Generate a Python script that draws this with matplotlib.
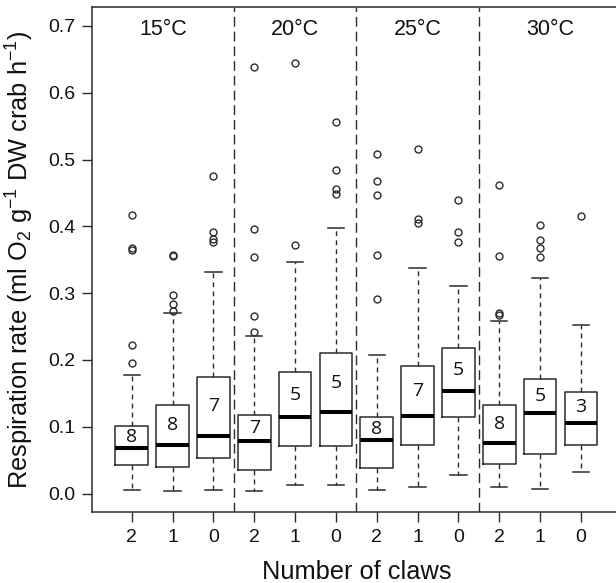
import matplotlib
matplotlib.use("Agg")
import matplotlib.pyplot as plt

# Respiration rate by number of claws, grouped by temperature
temperatures = ["15°C", "20°C", "25°C", "30°C"]
claw_labels = ["2", "1", "0", "2", "1", "0", "2", "1", "0", "2", "1", "0"]
n_crabs = [8, 8, 7, 7, 5, 5, 8, 7, 5, 8, 5, 3]

q1 = [0.0435, 0.0394, 0.0534, 0.035, 0.0705, 0.0705, 0.038, 0.0734, 0.114, 0.045, 0.059, 0.073]
medians = [0.0675, 0.0724, 0.0864, 0.078, 0.114, 0.122, 0.0795, 0.116, 0.153, 0.076, 0.120, 0.106]
q3 = [0.101, 0.133, 0.175, 0.117, 0.182, 0.210, 0.115, 0.191, 0.218, 0.133, 0.172, 0.152]
whisker_low = [0.005, 0.0045, 0.005, 0.0045, 0.0135, 0.0135, 0.005, 0.010, 0.0274, 0.0094, 0.0075, 0.032]
whisker_high = [0.177, 0.271, 0.332, 0.236, 0.346, 0.398, 0.208, 0.338, 0.311, 0.258, 0.323, 0.253]
outliers = [
    [0.196, 0.222, 0.364, 0.367, 0.417],
    [0.274, 0.284, 0.297, 0.356, 0.357],
    [0.377, 0.381, 0.391, 0.475],
    [0.242, 0.266, 0.354, 0.396, 0.638],
    [0.372, 0.644],
    [0.448, 0.456, 0.484, 0.556],
    [0.292, 0.357, 0.447, 0.468, 0.509],
    [0.405, 0.411, 0.516],
    [0.377, 0.391, 0.440],
    [0.268, 0.270, 0.355, 0.462],
    [0.354, 0.367, 0.380, 0.402],
    [0.416],
]
y_ticks = [0.0, 0.1, 0.2, 0.3, 0.4, 0.5, 0.6, 0.7]

plt.rcParams["font.family"] = ["Liberation Sans", "DejaVu Sans"]
plt.rcParams["mathtext.fontset"] = "custom"
plt.rcParams["mathtext.rm"] = "Liberation Sans"
plt.rcParams["mathtext.it"] = "Liberation Sans:italic"
plt.rcParams["mathtext.default"] = "regular"

line_col = "#2b2b2b"
text_col = "#111111"

fig = plt.figure(figsize=(6.16, 5.83), dpi=100)
ax = fig.add_axes([0.1489, 0.1213, 0.859, 0.8662])

positions = list(range(1, len(medians) + 1))
stats = []
for i in range(len(medians)):
    stats.append(dict(med=medians[i], q1=q1[i], q3=q3[i],
                      whislo=whisker_low[i], whishi=whisker_high[i],
                      fliers=outliers[i]))

ax.bxp(stats, positions=positions, widths=0.8, capwidths=0.4,
       boxprops=dict(color=line_col, linewidth=1.1),
       whiskerprops=dict(color=line_col, linewidth=1.0, linestyle=(0, (3.5, 3.0))),
       capprops=dict(color=line_col, linewidth=1.1),
       medianprops=dict(color="black", linewidth=2.9, solid_capstyle="butt"),
       flierprops=dict(marker="o", markerfacecolor="none", markeredgecolor=line_col,
                       markersize=5, markeredgewidth=1.0, linestyle="none"),
       manage_ticks=False)

# sample sizes inside each box
for p, n, m, top in zip(positions, n_crabs, medians, q3):
    ax.text(p, (m + top) / 2, str(n), ha="center", va="center",
            fontsize=14, color=text_col, family=["Open Sans", "DejaVu Sans"])

xmin, xmax = 0.02, 12.98
ax.set_xlim(xmin, xmax)
ax.set_ylim(-0.028, 0.728)

# temperature panels
bounds = [xmin, 3.5, 6.5, 9.5, xmax]
for b in bounds[1:-1]:
    ax.axvline(b, color=line_col, linewidth=1.0, linestyle=(0, (7.0, 3.6)))
for k, t in enumerate(temperatures):
    ax.text((bounds[k] + bounds[k + 1]) / 2, 0.695, t, ha="center", va="center",
            fontsize=15.5, color=text_col)

ax.set_xticks(positions)
ax.set_xticklabels(claw_labels)
ax.set_yticks(y_ticks)
ax.set_yticklabels([f"{v:.1f}" for v in y_ticks])
ax.tick_params(axis="both", direction="out", length=7, width=1.0, color=line_col,
               labelsize=14, labelcolor=text_col)
ax.tick_params(axis="x", pad=5)
ax.tick_params(axis="y", pad=4.8)
for s in ax.spines.values():
    s.set_color(line_col)
    s.set_linewidth(1.1)

ax.set_xlabel("Number of claws", fontsize=18.3, color=text_col)
ax.xaxis.set_label_coords(0.5, -0.094)
ax.set_ylabel(r"Respiration rate (ml O$_2$ g$^{-1}$ DW crab h$^{-1}$)",
              fontsize=18.3, color=text_col)
ax.yaxis.set_label_coords(-0.105, 0.5)

fig.savefig("out.png", dpi=100)
